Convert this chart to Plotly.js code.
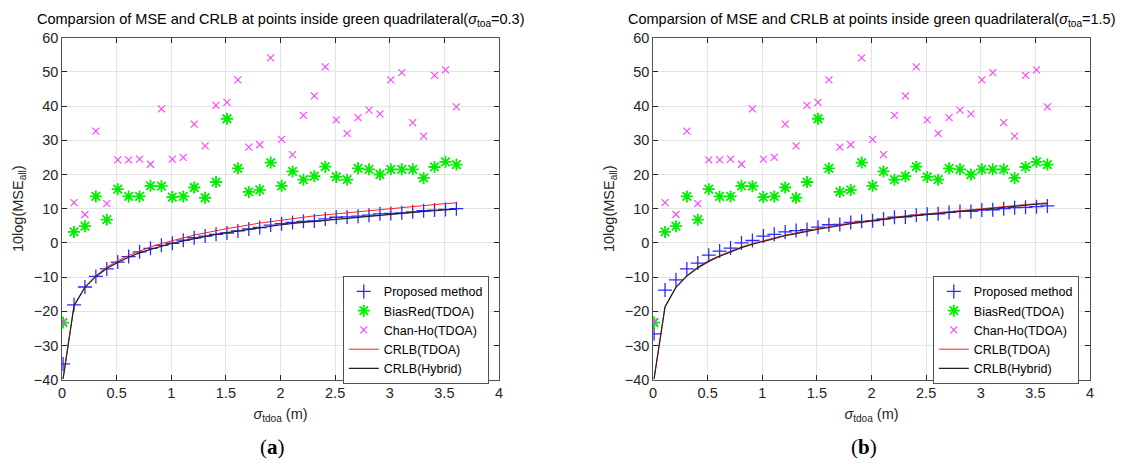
<!DOCTYPE html>
<html>
<head>
<meta charset="utf-8">
<script src="https://cdn.plot.ly/plotly-3.0.1.min.js"></script>
<style>html,body{margin:0;padding:0;background:#fff;}#chart{width:1126px;height:464px;}</style>
</head>
<body>
<div id="chart"></div>
<script>
// sigma_tdoa (m)
const sigmaTdoa = [0.01,0.11,0.21,0.31,0.41,0.51,0.61,0.71,0.81,0.91,1.01,1.11,1.21,1.31,1.41,1.51,1.61,1.71,1.81,1.91,2.01,2.11,2.21,2.31,2.41,2.51,2.61,2.71,2.81,2.91,3.01,3.11,3.21,3.31,3.41,3.51,3.61];

// (a) sigma_toa = 0.3
const proposedA = [-35.4,-18.1,-12.9,-9.8,-7.6,-5.6,-4.0,-2.6,-1.6,-0.7,-0.1,0.8,1.5,2.0,2.5,2.9,3.5,4.1,4.5,5.2,5.6,6.0,6.3,6.4,7.0,7.5,7.6,7.8,8.1,8.5,8.6,8.8,9.1,9.4,9.6,9.8,10.0];
const crlbHybridA = [-39.8,-18.3,-13.0,-9.8,-7.5,-5.7,-4.2,-2.9,-1.9,-0.9,-0.1,0.6,1.3,1.9,2.5,3.0,3.5,4.0,4.4,4.9,5.3,5.7,6.0,6.4,6.7,7.0,7.3,7.6,7.9,8.2,8.4,8.7,8.9,9.2,9.4,9.7,9.9];

// (b) sigma_toa = 1.5
const proposedB = [-26.6,-13.8,-10.8,-7.6,-5.9,-3.6,-2.4,-1.5,0.0,0.7,2.0,2.5,3.2,3.6,3.9,4.6,5.3,5.4,6.0,6.3,6.5,7.0,7.5,7.6,8.1,8.4,8.5,8.9,9.2,9.2,9.6,9.7,10.0,10.3,10.4,10.6,10.8];
const crlbHybridB = [-39.8,-18.7,-13.0,-9.7,-7.3,-5.4,-3.9,-2.6,-1.4,-0.4,0.5,1.3,2.1,2.7,3.4,4.0,4.5,5.1,5.6,6.0,6.5,6.9,7.3,7.7,8.0,8.4,8.7,9.1,9.4,9.7,10.0,10.2,10.5,10.8,11.0,11.3,11.5];

// shared by both panels
const biasRed = [-23.3,3.2,4.9,13.6,6.8,15.7,13.6,13.6,16.7,16.6,13.4,13.6,16.2,13.2,17.8,36.3,21.8,14.9,15.5,23.5,16.7,20.9,18.5,19.5,22.3,19.3,18.5,21.8,21.5,20.0,21.5,21.5,21.5,19.0,22.2,23.7,22.9];
const chanHo = [-23.0,11.8,8.3,32.7,11.5,24.3,24.3,24.5,23.0,39.2,24.5,25.0,34.7,28.4,40.2,41.1,47.7,28.0,28.7,54.1,30.3,25.8,37.3,43.0,51.5,36.0,32.0,36.6,38.8,37.7,47.7,49.8,35.2,31.2,49.0,50.6,39.8];
const crlbTdoa = [-39.6,-18.6,-12.9,-9.6,-7.1,-5.2,-3.7,-2.4,-1.2,-0.2,0.7,1.5,2.3,2.9,3.6,4.2,4.7,5.3,5.8,6.2,6.7,7.1,7.5,7.9,8.2,8.6,8.9,9.3,9.6,9.9,10.2,10.4,10.7,11.0,11.2,11.5,11.7];

const seriesNames = ['Proposed method','BiasRed(TDOA)','Chan-Ho(TDOA)','CRLB(TDOA)','CRLB(Hybrid)'];
const panelTitles = ['Comparsion of MSE and CRLB at points inside green quadrilateral(<i>σ</i><sub>toa</sub>=0.3)',
                     'Comparsion of MSE and CRLB at points inside green quadrilateral(<i>σ</i><sub>toa</sub>=1.5)'];
const panelLabels = ['(<b>a</b>)','(<b>b</b>)'];

const FONT = 'Liberation Sans, Arial, sans-serif';

function panelTraces(proposed, hybrid, xa, ya, leg) {
  return [
    {x: sigmaTdoa, y: proposed, name: seriesNames[0], mode: 'markers', xaxis: xa, yaxis: ya, legend: leg,
     marker: {symbol: 'cross-thin-open', size: 10, color: '#2a2aff', line: {width: 1.3}}},
    {x: sigmaTdoa, y: biasRed, name: seriesNames[1], mode: 'markers', xaxis: xa, yaxis: ya, legend: leg,
     marker: {symbol: 'asterisk-open', size: 10, color: '#00ee00', line: {width: 1.8}}},
    {x: sigmaTdoa, y: chanHo, name: seriesNames[2], mode: 'markers', xaxis: xa, yaxis: ya, legend: leg,
     marker: {symbol: 'x-thin-open', size: 7, color: '#ff40ff', line: {width: 1.1}}},
    {x: sigmaTdoa, y: crlbTdoa, name: seriesNames[3], mode: 'lines', xaxis: xa, yaxis: ya, legend: leg,
     line: {color: '#ff2020', width: 1}},
    {x: sigmaTdoa, y: hybrid, name: seriesNames[4], mode: 'lines', xaxis: xa, yaxis: ya, legend: leg,
     line: {color: '#222222', width: 1.2}}
  ];
}

const data = [].concat(
  panelTraces(proposedA, crlbHybridA, 'x', 'y', 'legend'),
  panelTraces(proposedB, crlbHybridB, 'x2', 'y2', 'legend2')
);

const W = 1126, H = 464;
const domA = [62 / W, 499 / W];
const domB = [653 / W, 1090 / W];
const domY = [(H - 379.7) / H, (H - 37.7) / H];

function xAxis(dom, anchor) {
  return {
    domain: dom, anchor: anchor, range: [0, 4], dtick: 0.5, tick0: 0,
    showgrid: true, gridcolor: '#e3e3e3', gridwidth: 1, zeroline: false,
    showline: true, linecolor: '#262626', linewidth: 0.8, mirror: 'ticks',
    ticks: 'inside', ticklen: 5, tickcolor: '#262626',
    tickfont: {family: FONT, size: 14.5, color: '#262626'},
    title: {text: '<i>σ</i><sub>tdoa</sub> (m)', standoff: 8,
            font: {family: FONT, size: 14.5, color: '#262626'}},
    automargin: false
  };
}
function yAxis(anchor) {
  return {
    domain: domY, anchor: anchor, range: [-40, 60], dtick: 10, tick0: 0,
    showgrid: true, gridcolor: '#e3e3e3', gridwidth: 1, zeroline: false,
    showline: true, linecolor: '#262626', linewidth: 0.8, mirror: 'ticks',
    ticks: 'inside', ticklen: 5, tickcolor: '#262626',
    tickfont: {family: FONT, size: 14.5, color: '#262626'},
    title: {text: '10log(MSE<sub>all</sub>)', standoff: 6,
            font: {family: FONT, size: 14.5, color: '#262626'}},
    automargin: false
  };
}
function legendBox(xPix) {
  return {
    x: xPix / W, y: (H - 276) / H, xanchor: 'left', yanchor: 'top',
    bgcolor: '#ffffff', bordercolor: '#262626', borderwidth: 0.8,
    font: {family: FONT, size: 12.5, color: '#000'},
    itemwidth: 30, tracegroupgap: 0
  };
}

const annotations = [];
[domA, domB].forEach((d, i) => {
  annotations.push({text: panelTitles[i], xref: 'paper', yref: 'paper',
    x: (d[0] + d[1]) / 2, y: (H - 20) / H, xanchor: 'center', yanchor: 'middle', showarrow: false,
    font: {family: FONT, size: 14.5, color: '#000'}});
  annotations.push({text: panelLabels[i], xref: 'paper', yref: 'paper',
    x: (d[0] + d[1]) / 2 - 8 / W, y: (H - 447) / H, xanchor: 'center', yanchor: 'middle', showarrow: false,
    font: {family: 'Liberation Serif, DejaVu Serif, serif', size: 21, color: '#000'}});
});

const layout = {
  width: W, height: H,
  margin: {l: 0, r: 0, t: 0, b: 0},
  paper_bgcolor: '#ffffff', plot_bgcolor: '#ffffff',
  showlegend: true,
  xaxis: xAxis(domA, 'y'), yaxis: yAxis('x'),
  xaxis2: xAxis(domB, 'y2'), yaxis2: yAxis('x2'),
  legend: legendBox(343),
  legend2: legendBox(933),
  annotations: annotations
};

Plotly.newPlot('chart', data, layout, {displayModeBar: false, staticPlot: true});
</script>
</body>
</html>
